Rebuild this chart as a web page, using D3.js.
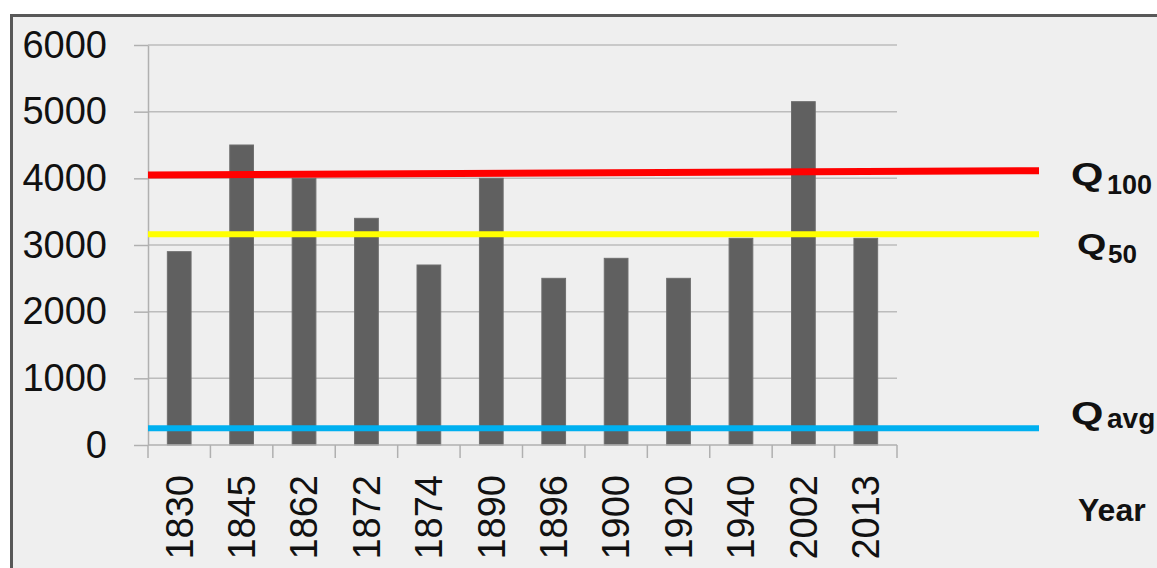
<!DOCTYPE html>
<html>
<head>
<meta charset="utf-8">
<script src="https://cdn.jsdelivr.net/npm/d3@7"></script>
<style>
  html, body { margin: 0; padding: 0; background: #ffffff; }
  svg { display: block; }
</style>
</head>
<body>
<svg id="chart" width="1157" height="568"></svg>
<script>
// ---- data ----
const years = ["1830", "1845", "1862", "1872", "1874", "1890", "1896", "1900", "1920", "1940", "2002", "2013"];
const flows = [2900, 4500, 4000, 3400, 2700, 4000, 2500, 2800, 2500, 3100, 5150, 3100];
const yTicks = [0, 1000, 2000, 3000, 4000, 5000, 6000];
const q100 = [4050, 4115];   // slightly rising line (start, end)
const q50 = [3160, 3160];
const qavg = [250, 250];
const refNames = ["Q", "Q", "Q"];
const refSubs = ["100", "50", "avg"];
const xTitle = "Year";

// ---- layout ----
const W = 1157, H = 568;
const plotLeft = 148, plotRight = 897, plotTop = 45, plotBottom = 445;
const lineExtend = 142;

const svg = d3.select("#chart");

// frame
svg.append("rect")
  .attr("x", 11.5).attr("y", 15.5)
  .attr("width", W + 20).attr("height", H + 20)
  .attr("fill", "#efefef")
  .attr("stroke", "#585858").attr("stroke-width", 3);

const x = d3.scaleBand().domain(years).range([plotLeft, plotRight])
  .paddingInner(0.62).paddingOuter(0.31);
const y = d3.scaleLinear().domain([0, 6000]).range([plotBottom, plotTop]);
const step = x.step();

// gridlines
svg.append("g").selectAll("line").data(yTicks.filter(d => d > 0)).join("line")
  .attr("x1", plotLeft).attr("x2", plotRight)
  .attr("y1", d => y(d)).attr("y2", d => y(d))
  .attr("stroke", "#bcbcbc").attr("stroke-width", 1.5);

// y axis
const yAxis = d3.axisLeft(y).tickValues(yTicks).tickSizeInner(14).tickSizeOuter(0).tickPadding(27)
  .tickFormat(d3.format("d"));
const gy = svg.append("g").attr("transform", `translate(${plotLeft},0)`).call(yAxis);
gy.select(".domain").attr("stroke", "#b0b0b0").attr("stroke-width", 1.5);
gy.selectAll(".tick line").attr("stroke", "#b0b0b0").attr("stroke-width", 1.5);
gy.selectAll(".tick text")
  .attr("font-family", "'Liberation Sans', Arial, sans-serif")
  .attr("font-size", 38).attr("fill", "#111");

// bars
svg.append("g").selectAll("rect").data(years).join("rect")
  .attr("x", (d) => x(d))
  .attr("width", x.bandwidth())
  .attr("y", (d, i) => y(flows[i]))
  .attr("height", (d, i) => y(0) - y(flows[i]))
  .attr("fill", "#606060")
  .attr("stroke", "#6e6e6e").attr("stroke-width", 1);

// x axis line and boundary ticks
svg.append("line")
  .attr("x1", plotLeft).attr("x2", plotRight)
  .attr("y1", y(0)).attr("y2", y(0))
  .attr("stroke", "#b0b0b0").attr("stroke-width", 1.5);
svg.append("g").selectAll("line").data(d3.range(years.length + 1)).join("line")
  .attr("x1", i => plotLeft + i * step).attr("x2", i => plotLeft + i * step)
  .attr("y1", y(0)).attr("y2", y(0) + 13)
  .attr("stroke", "#b0b0b0").attr("stroke-width", 1.5);

// x labels
svg.append("g").selectAll("text").data(years).join("text")
  .attr("transform", d => `translate(${x(d) + x.bandwidth() / 2},${y(0) + 30}) rotate(-90)`)
  .attr("text-anchor", "end")
  .attr("dy", "0.35em")
  .attr("font-family", "'Liberation Sans', Arial, sans-serif")
  .attr("font-size", 38).attr("fill", "#111")
  .text(d => d);

// reference lines
const refs = [
  { vals: q100, color: "#ff0000", w: 7 },
  { vals: q50, color: "#ffff00", w: 6 },
  { vals: qavg, color: "#00b0f0", w: 6 }
];
const lineX2 = plotRight + lineExtend;
svg.append("g").selectAll("line").data(refs).join("line")
  .attr("x1", plotLeft).attr("x2", lineX2)
  .attr("y1", d => y(d.vals[0])).attr("y2", d => y(d.vals[1]))
  .attr("stroke", d => d.color).attr("stroke-width", d => d.w);

// reference labels
const labelPos = [
  { qx: 1071, qy: 185, qs: 32, sx: 1107, sy: 194, ss: 27, scale: 1.3 },
  { qx: 1077, qy: 254, qs: 29, sx: 1108, sy: 263, ss: 26, scale: 1.3 },
  { qx: 1071, qy: 424, qs: 32, sx: 1107, sy: 428, ss: 28, scale: 1.3 }
];
const lg = svg.append("g");
refNames.forEach((n, i) => {
  const p = labelPos[i];
  lg.append("text")
    .attr("transform", `translate(${p.qx},${p.qy}) scale(${p.scale},1)`)
    .attr("font-family", "'Liberation Sans', Arial, sans-serif")
    .attr("font-weight", "bold").attr("font-size", p.qs).attr("fill", "#111")
    .text(n);
  lg.append("text")
    .attr("x", p.sx).attr("y", p.sy)
    .attr("font-family", "'Liberation Sans', Arial, sans-serif")
    .attr("font-weight", "bold").attr("font-size", p.ss).attr("fill", "#111")
    .text(refSubs[i]);
});

// x title
svg.append("text")
  .attr("x", 1078).attr("y", 521)
  .attr("font-family", "'Liberation Sans', Arial, sans-serif")
  .attr("font-weight", "bold").attr("font-size", 32).attr("fill", "#111")
  .text(xTitle);
</script>
</body>
</html>
